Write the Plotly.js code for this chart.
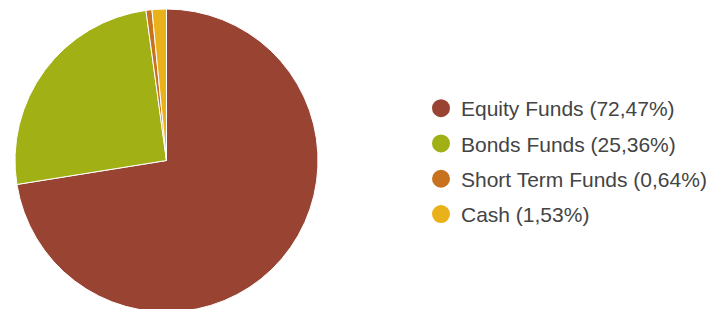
<!DOCTYPE html>
<html>
<head>
<meta charset="utf-8">
<script src="https://cdn.plot.ly/plotly-3.0.1.min.js"></script>
<style>
html,body{margin:0;padding:0;overflow:hidden;background:#fff;}
#chart{width:717px;height:320px;}
</style>
</head>
<body>
<div id="chart"></div>
<script>
const categories = ["Equity Funds", "Bonds Funds", "Short Term Funds", "Cash"];
const shares = [72.47, 25.36, 0.64, 1.53];
const shareLabels = ["72,47%", "25,36%", "0,64%", "1,53%"];
const colors = ["#994433", "#a0b015", "#c8711f", "#eab21a"];

const W = 717, H = 320;

const pie = {
  type: "pie",
  labels: categories,
  values: shares,
  sort: false,
  direction: "clockwise",
  rotation: 0,
  textinfo: "none",
  hoverinfo: "label+percent",
  showlegend: false,
  marker: {colors: colors, line: {color: "#ffffff", width: 1}},
  domain: {x: [15 / W, 318 / W], y: [1 - 312 / H, 1 - 9 / H]}
};

const legendTraces = categories.map((c, i) => ({
  type: "scatter",
  mode: "markers",
  x: [null],
  y: [null],
  name: c + " (" + shareLabels[i] + ")",
  legendgroup: "g" + i,
  marker: {symbol: "circle", size: 18, color: colors[i], line: {color: colors[i], width: 2}},
  hoverinfo: "skip"
}));

const layout = {
  width: W,
  height: H,
  margin: {l: 0, r: 0, t: 0, b: 0},
  paper_bgcolor: "#ffffff",
  plot_bgcolor: "#ffffff",
  xaxis: {visible: false},
  yaxis: {visible: false},
  showlegend: true,
  legend: {
    x: 421 / W,
    xanchor: "left",
    y: 1 - 88 / H,
    yanchor: "top",
    font: {family: "Arial, 'Liberation Sans', sans-serif", size: 21, color: "#444444"},
    tracegroupgap: 5,
    itemsizing: "trace",
    bgcolor: "rgba(0,0,0,0)"
  }
};

Plotly.newPlot("chart", [pie].concat(legendTraces), layout, {displayModeBar: false, staticPlot: true});
</script>
</body>
</html>
